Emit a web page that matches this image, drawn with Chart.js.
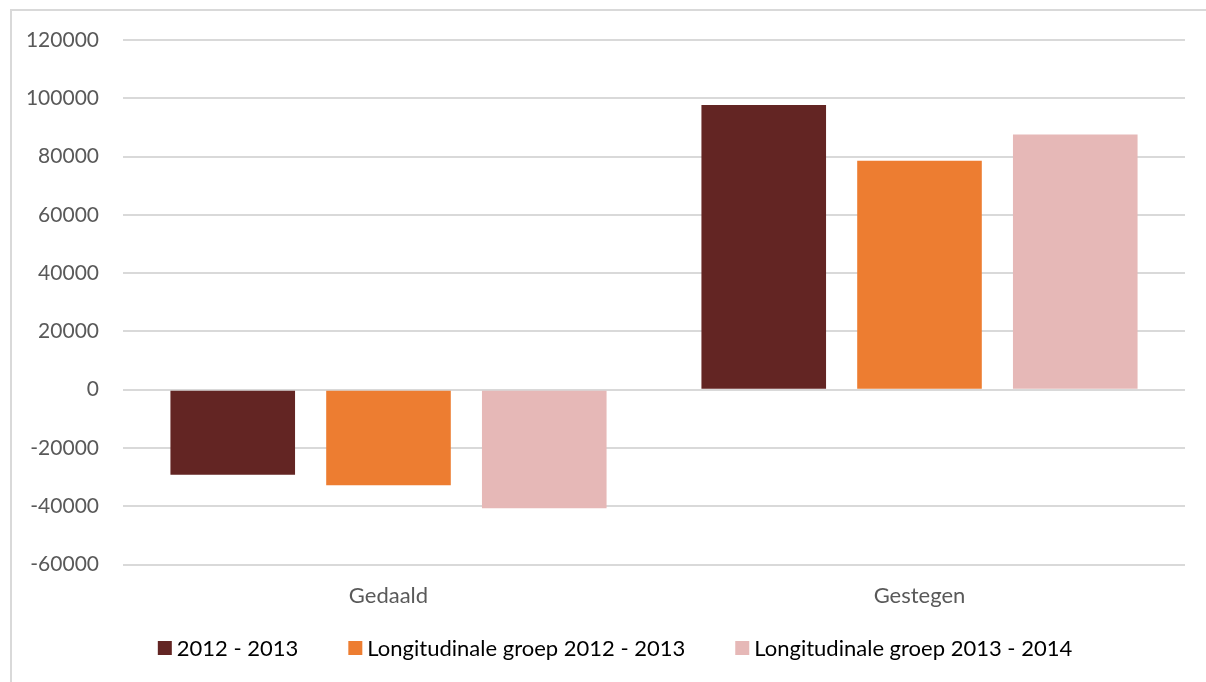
<!DOCTYPE html>
<html>
<head>
<meta charset="utf-8">
<script src="https://cdn.jsdelivr.net/npm/chart.js@4"></script>
<style>
  html, body { margin: 0; padding: 0; background: #fff; overflow: hidden; }
  #frame { position: absolute; left: 10px; top: 9px; width: 1300px; height: 800px; border: 2px solid #d9d9d9; }
  #wrap { position: absolute; left: 0; top: 0; width: 1206px; height: 682px; }
</style>
</head>
<body>
<div id="frame"></div>
<div id="wrap"><canvas id="chart"></canvas></div>
<script>
const categories = ['Gedaald', 'Gestegen'];
const seriesNames = ['2012 - 2013', 'Longitudinale groep 2012 - 2013', 'Longitudinale groep 2013 - 2014'];
const values2012 = [-29200, 97700];
const valuesLong2012 = [-32800, 78600];
const valuesLong2013 = [-40700, 87600];
const colors = ['#632523', '#ED7D31', '#E6B8B7'];

const font = "Lato, 'Liberation Sans', sans-serif";

// legend drawn below the axis, Excel style (box, small gap, text, wide gap)
const bottomLegend = {
    id: 'bottomLegend',
    afterDraw(chart) {
        const ctx = chart.ctx;
        const size = 14, gap = 5, spacing = 50;
        ctx.save();
        ctx.font = '22px ' + font;
        ctx.textBaseline = 'middle';
        const items = chart.data.datasets.map(ds => ({
            text: ds.label, color: ds.backgroundColor, w: ctx.measureText(ds.label).width
        }));
        const total = items.reduce((s, it) => s + size + gap + it.w, 0) + spacing * (items.length - 1);
        let x = chart.width / 2 + 12 - total / 2;
        const y = 648;
        items.forEach(it => {
            ctx.fillStyle = it.color;
            ctx.fillRect(x, y - size / 2, size, size);
            x += size + gap;
            ctx.fillStyle = '#000';
            ctx.fillText(it.text, x, y + 1);
            x += it.w + spacing;
        });
        ctx.restore();
    }
};

new Chart(document.getElementById('chart'), {
    type: 'bar',
    data: {
        labels: categories,
        datasets: [
            { label: seriesNames[0], data: values2012, backgroundColor: colors[0] },
            { label: seriesNames[1], data: valuesLong2012, backgroundColor: colors[1] },
            { label: seriesNames[2], data: valuesLong2013, backgroundColor: colors[2] }
        ]
    },
    plugins: [bottomLegend],
    options: {
        responsive: true,
        maintainAspectRatio: false,
        animation: false,
        categoryPercentage: 0.88,
        barPercentage: 0.8,
        layout: { padding: { top: 40, right: 21, left: 0, bottom: 63 } },
        scales: {
            x: {
                grid: { display: false },
                border: { display: false },
                ticks: { color: '#595959', font: { family: font, size: 22 }, padding: 10 }
            },
            y: {
                min: -60000,
                max: 120000,
                afterFit(axis) { axis.width = 123; },
                grid: { color: '#d9d9d9', lineWidth: 2, drawTicks: false },
                border: { display: false },
                ticks: {
                    stepSize: 20000,
                    color: '#595959',
                    font: { family: font, size: 21 },
                    padding: 24,
                    callback: v => String(v)
                }
            }
        },
        plugins: {
            legend: { display: false },
            tooltip: { enabled: false }
        }
    }
});
</script>
</body>
</html>
